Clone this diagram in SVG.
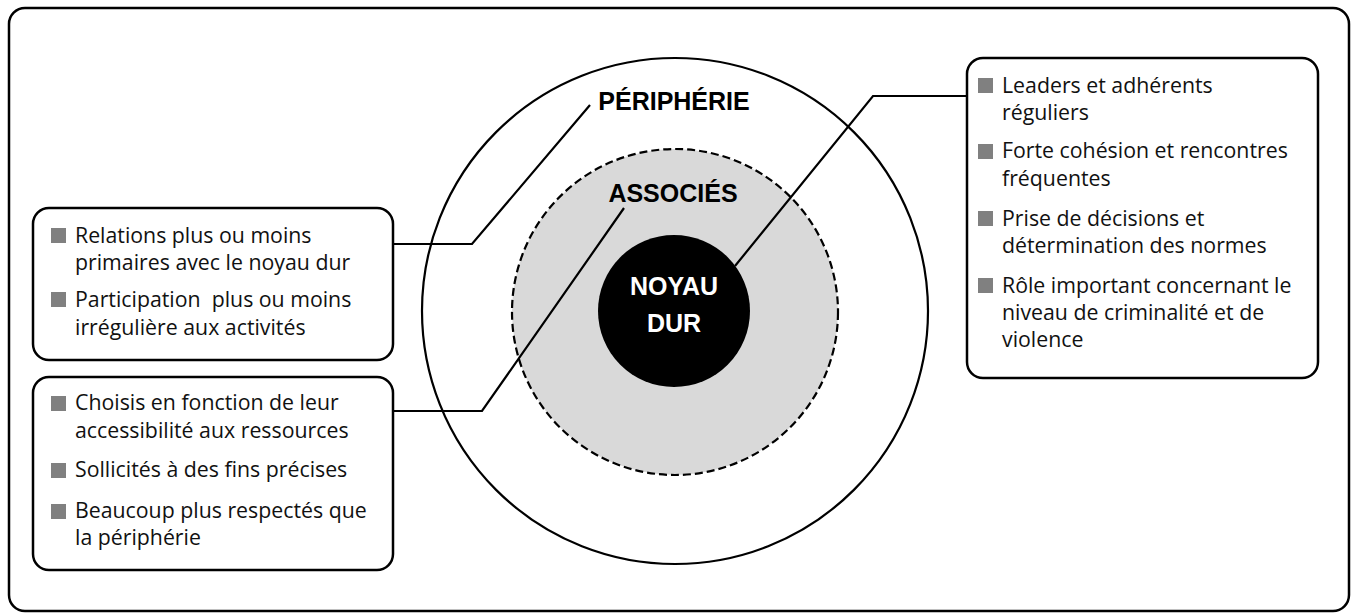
<svg xmlns="http://www.w3.org/2000/svg" width="1351" height="613" viewBox="0 0 1351 613">
<style>
.frame{fill:#fff;stroke:#000;stroke-width:2.5}
.box{fill:#fff;stroke:#000;stroke-width:2.5}
.conn{fill:none;stroke:#000;stroke-width:2.2}
.t{font-family:"Open Sans","Liberation Sans",Arial,sans-serif;font-size:21.3px;fill:#111}
.h{font-family:"Liberation Sans",Arial,sans-serif;font-size:25px;font-weight:bold;fill:#000;text-anchor:middle}
.hw{fill:#fff}
.b{fill:#808080}
</style>
<rect class="frame" x="9" y="8" width="1340" height="603" rx="16"/>
<g id="circles">
<circle id="peripherie" cx="675" cy="311" r="253" fill="#fff" stroke="#000" stroke-width="2.2"/>
<circle id="associes" cx="675" cy="312" r="163" fill="#d9d9d9" stroke="#000" stroke-width="2.2" stroke-dasharray="8,4"/>
<circle id="noyau" cx="674" cy="311" r="76" fill="#000"/>
</g>
<g id="connectors">
<polyline class="conn" points="590,105 472,244 393,244"/>
<polyline class="conn" points="624,208 482,411 393,411"/>
<polyline class="conn" points="735,266 873,96 972,96"/>
</g>
<g id="label-peripherie"><text class="h" x="674" y="110">PÉRIPHÉRIE</text></g>
<g id="label-associes"><text class="h" x="673" y="202">ASSOCIÉS</text></g>
<g id="label-noyau"><text class="h hw" x="674" y="295">NOYAU</text><text class="h hw" x="674" y="332">DUR</text></g>
<g id="box-peripherie">
<rect class="box" x="33" y="208" width="360" height="152" rx="16"/>
<rect class="b" x="51" y="228" width="15" height="15"/>
<text class="t" x="75" y="243">Relations plus ou moins</text>
<text class="t" x="75" y="270">primaires avec le noyau dur</text>
<rect class="b" x="51" y="292" width="15" height="15"/>
<text class="t" x="75" y="307" xml:space="preserve">Participation  plus ou moins</text>
<text class="t" x="75" y="335">irrégulière aux activités</text>
</g>
<g id="box-associes">
<rect class="box" x="33" y="377" width="360" height="193" rx="16"/>
<rect class="b" x="51" y="396" width="15" height="15"/>
<text class="t" x="75" y="410">Choisis en fonction de leur</text>
<text class="t" x="75" y="438">accessibilité aux ressources</text>
<rect class="b" x="51" y="463" width="15" height="15"/>
<text class="t" x="75" y="477">Sollicités à des fins précises</text>
<rect class="b" x="51" y="504" width="15" height="15"/>
<text class="t" x="75" y="518">Beaucoup plus respectés que</text>
<text class="t" x="75" y="545">la périphérie</text>
</g>
<g id="box-noyau">
<rect class="box" x="967" y="58" width="351" height="320" rx="16"/>
<rect class="b" x="978" y="78" width="15" height="15"/>
<text class="t" x="1002" y="93">Leaders et adhérents</text>
<text class="t" x="1002" y="120">réguliers</text>
<rect class="b" x="978" y="144" width="15" height="15"/>
<text class="t" x="1002" y="158">Forte cohésion et rencontres</text>
<text class="t" x="1002" y="186">fréquentes</text>
<rect class="b" x="978" y="211" width="15" height="15"/>
<text class="t" x="1002" y="226">Prise de décisions et</text>
<text class="t" x="1002" y="253">détermination des normes</text>
<rect class="b" x="978" y="278" width="15" height="15"/>
<text class="t" x="1002" y="293">Rôle important concernant le</text>
<text class="t" x="1002" y="320">niveau de criminalité et de</text>
<text class="t" x="1002" y="347">violence</text>
</g>
</svg>
